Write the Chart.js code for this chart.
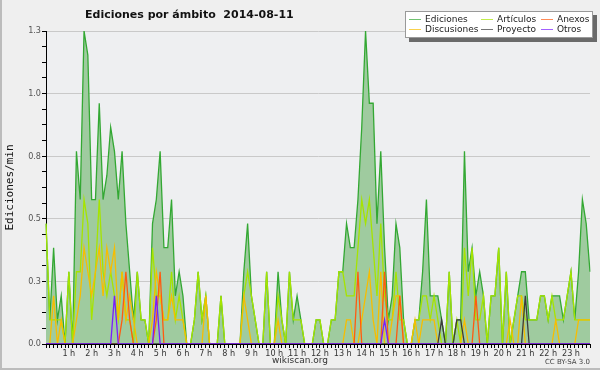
<!DOCTYPE html>
<html>
<head>
<meta charset="utf-8">
<script src="https://cdn.jsdelivr.net/npm/chart.js@4.4.1/dist/chart.umd.min.js"></script>
<style>
  html, body { margin: 0; padding: 0; background: #efefef; }
  #wrap { position: relative; width: 600px; height: 370px; font-family: "DejaVu Sans", sans-serif; }
  #frame { position: absolute; left: 0; top: 0; width: 598px; height: 368px; border-left: 2px solid #bcbcbc; border-bottom: 2px solid #bcbcbc; pointer-events: none; }
  #title { position: absolute; left: 85px; top: 8px; font-size: 11px; font-weight: bold; color: #111; white-space: pre; }
  #legend { position: absolute; left: 405px; top: 11px; width: 186px; height: 25px; background: #fff;
            border: 1px solid #999; box-shadow: 4px 4px 0 #6a6a6a; font-size: 9px; color: #222; }
  .item { position: absolute; white-space: nowrap; line-height: 10px; }
  .item i { display: inline-block; width: 12px; height: 1px; vertical-align: middle; margin-right: 4px; opacity: .7; }
  #site { position: absolute; left: 0; width: 600px; top: 355px; text-align: center; font-size: 9px; color: #333; }
  #lic { position: absolute; right: 10px; top: 358px; font-size: 7px; color: #444; }
</style>
</head>
<body>
<div id="wrap">
  <canvas id="chart" width="600" height="370"></canvas>
  <div id="title">Ediciones por ámbito  2014-08-11</div>
  <div id="legend"></div>
  <div id="site">wikiscan.org</div>
  <div id="lic">CC BY-SA 3.0</div>
  <div id="frame"></div>
</div>
<script>
// hour labels under the x axis, one slot every 10 minutes
const hourLabels = ['', '1 h', '2 h', '3 h', '4 h', '5 h', '6 h', '7 h', '8 h', '9 h', '10 h', '11 h',
  '12 h', '13 h', '14 h', '15 h', '16 h', '17 h', '18 h', '19 h', '20 h', '21 h', '22 h', '23 h'];
const slots = [];
for (let h = 0; h < 24; h++) {
  for (let m = 0; m < 60; m += 10) slots.push(String(h).padStart(2, '0') + ':' + String(m).padStart(2, '0'));
}

// edits per minute, 10 minute buckets
const ediciones = [
  0.5,0.1,0.4,0.1,0.2,0,0.3,0,0.8,0.6,
  1.3,1.2,0.6,0.6,1.0,0.6,0.7,0.9,0.8,0.6,
  0.8,0.5,0.3,0.1,0.3,0.1,0.1,0,0.5,0.6,
  0.8,0.4,0.4,0.6,0.2,0.3,0.2,0,0,0.1,
  0.3,0.1,0.2,0,0,0,0.2,0,0,0,
  0,0,0.3,0.5,0.2,0.1,0,0,0.3,0,
  0,0.3,0.1,0,0.3,0.1,0.2,0.1,0,0,
  0,0.1,0.1,0,0,0.1,0.1,0.3,0.3,0.5,
  0.4,0.4,0.6,0.9,1.3,1.0,1.0,0.5,0.8,0.4,
  0.1,0.2,0.5,0.4,0.1,0,0,0.1,0.1,0.3,
  0.6,0.2,0.2,0.2,0.1,0,0.3,0,0.1,0.1,
  0.8,0.3,0.4,0.2,0.3,0.2,0,0.2,0.2,0.4,
  0,0.3,0,0.1,0.2,0.3,0.3,0.1,0.1,0.1,
  0.2,0.2,0.1,0.2,0.2,0.2,0.1,0.2,0.3,0.1,
  0.3,0.6,0.5,0.3
];
const articulos = [
  0.5,0.1,0.1,0.1,0.1,0,0.3,0,0.3,0.3,
  0.6,0.5,0.1,0.3,0.6,0.3,0.2,0.3,0.2,0.1,
  0.3,0.1,0.1,0,0.3,0.1,0.1,0,0.4,0.2,
  0.2,0.1,0.1,0.3,0.1,0.2,0.1,0,0,0.1,
  0.3,0.1,0.2,0,0,0,0.2,0,0,0,
  0,0,0.2,0.3,0.2,0.1,0,0,0.3,0,
  0,0.2,0.1,0,0.3,0.1,0.1,0.1,0,0,
  0,0.1,0.1,0,0,0.1,0.1,0.3,0.3,0.2,
  0.2,0.2,0.4,0.6,0.5,0.6,0.4,0.2,0.5,0.2,
  0.1,0.1,0.3,0.1,0.1,0,0,0.1,0.1,0.2,
  0.2,0.1,0.2,0.1,0,0,0.3,0,0.1,0,
  0.4,0.2,0.4,0.1,0.1,0.2,0,0.2,0.2,0.4,
  0,0.3,0,0.1,0.2,0.2,0.1,0.1,0.1,0.1,
  0.2,0.2,0.1,0.2,0.1,0.1,0.1,0.2,0.3,0.1,
  0.1,0.1,0.1,0.1
];
const discusiones = [
  0,0,0.2,0,0.1,0,0,0,0.1,0.2,
  0.4,0.3,0.2,0.3,0.4,0.2,0.4,0.3,0.4,0.1,
  0.3,0.1,0.2,0.1,0,0,0,0,0.1,0.3,
  0.2,0.1,0.1,0.2,0.1,0.1,0.1,0,0,0,
  0,0,0.2,0,0,0,0,0,0,0,
  0,0,0.2,0.1,0,0,0,0,0,0,
  0,0.1,0,0,0,0,0,0,0,0,
  0,0,0,0,0,0,0,0,0,0.1,
  0.1,0,0,0.1,0.2,0.3,0.1,0,0.3,0,
  0,0.1,0.2,0.2,0,0,0,0.1,0,0.1,
  0.1,0.1,0.1,0,0,0,0,0,0,0,
  0.1,0,0,0,0,0,0,0,0,0,
  0,0,0.1,0,0,0.2,0,0,0,0,
  0,0,0,0,0.1,0,0,0,0,0,
  0.1,0.1,0.1,0.1
];
const anexos = [
  0,0,0,0,0,0,0,0,0,0,
  0,0,0,0,0,0,0,0,0,0,
  0.1,0.3,0.1,0,0,0,0,0,0,0.1,
  0.3,0,0,0,0,0,0,0,0,0,
  0,0,0,0,0,0,0,0,0,0,
  0,0,0,0,0,0,0,0,0,0,
  0,0,0,0,0,0,0,0,0,0,
  0,0,0,0,0,0,0,0,0,0,
  0,0,0.3,0,0,0,0,0,0,0.3,
  0,0,0,0.2,0,0,0,0,0,0,
  0,0,0,0,0,0,0,0,0,0,
  0,0,0,0.2,0,0,0,0,0,0,
  0,0,0,0,0,0,0,0,0,0,
  0,0,0,0,0,0,0,0,0,0,
  0,0,0,0
];
const proyecto = [
  0,0,0,0,0,0,0,0,0,0,
  0,0,0,0,0,0,0,0,0,0,
  0,0,0,0,0,0,0,0,0,0,
  0,0,0,0,0,0,0,0,0,0,
  0,0,0,0,0,0,0,0,0,0,
  0,0,0,0,0,0,0,0,0,0,
  0,0,0,0,0,0,0,0,0,0,
  0,0,0,0,0,0,0,0,0,0,
  0,0,0,0,0,0,0,0,0,0,
  0,0,0,0,0,0,0,0,0,0,
  0,0,0,0,0.1,0,0,0,0.1,0.1,
  0,0,0,0,0,0,0,0,0,0,
  0,0,0,0,0,0,0.2,0,0,0,
  0,0,0,0,0,0,0,0,0,0,
  0,0,0,0
];
const otros = [
  0,0,0,0,0,0,0,0,0,0,
  0,0,0,0,0,0,0,0,0.2,0,
  0,0,0,0,0,0,0,0,0,0.2,
  0,0,0,0,0,0,0,0,0,0,
  0,0,0,0,0,0,0,0,0,0,
  0,0,0,0,0,0,0,0,0,0,
  0,0,0,0,0,0,0,0,0,0,
  0,0,0,0,0,0,0,0,0,0,
  0,0,0,0,0,0,0,0,0,0.1,
  0,0,0,0,0,0,0,0,0,0,
  0,0,0,0,0,0,0,0,0,0,
  0,0,0,0,0,0,0,0,0,0,
  0,0,0,0,0,0,0,0,0,0,
  0,0,0,0,0,0,0,0,0,0,
  0,0,0,0
];

const series = [
  { label: 'Ediciones', data: ediciones, color: '#33a833' },
  { label: 'Artículos', data: articulos, color: '#a6e400' },
  { label: 'Anexos', data: anexos, color: '#ff5a10' },
  { label: 'Discusiones', data: discusiones, color: '#f7bd00' },
  { label: 'Proyecto', data: proyecto, color: '#3c3c3c' },
  { label: 'Otros', data: otros, color: '#7a1cff' }
];
const drawOrder = { 'Ediciones': 6, 'Artículos': 5, 'Discusiones': 4, 'Anexos': 3, 'Proyecto': 2, 'Otros': 1 };

// legend, 2 rows x 3 columns like the original box
const legendPos = [[3, 2], [75, 2], [135, 2], [3, 12], [75, 12], [135, 12]];
const legendOrder = ['Ediciones', 'Artículos', 'Anexos', 'Discusiones', 'Proyecto', 'Otros'];
const legendBox = document.getElementById('legend');
legendOrder.forEach((name, k) => {
  const s = series.find(d => d.label === name);
  const el = document.createElement('div');
  el.className = 'item';
  el.style.left = legendPos[k][0] + 'px';
  el.style.top = legendPos[k][1] + 'px';
  el.innerHTML = '<i style="background:' + s.color + '"></i>' + name;
  legendBox.appendChild(el);
});

const plotBg = {
  id: 'plotBg',
  beforeDraw(chart) {
    const { ctx, chartArea: a } = chart;
    ctx.save();
    ctx.fillStyle = '#eeeff1';
    ctx.fillRect(a.left, a.top, a.right - a.left, a.bottom - a.top);
    ctx.restore();
  }
};

const tickFont = { family: 'DejaVu Sans Condensed, DejaVu Sans, sans-serif', size: 9 };

new Chart(document.getElementById('chart').getContext('2d'), {
  type: 'line',
  data: {
    labels: slots,
    datasets: series.map(s => ({
      label: s.label,
      data: s.data,
      borderColor: s.color,
      backgroundColor: s.label === 'Ediciones' ? '#9fcb9f' : s.color,
      fill: s.label === 'Ediciones' ? 'origin' : false,
      borderWidth: 1.3,
      pointRadius: 0,
      tension: 0,
      order: drawOrder[s.label]
    }))
  },
  options: {
    responsive: false,
    animation: false,
    layout: { padding: { top: 31, right: 10, bottom: 0, left: 0 } },
    plugins: {
      legend: { display: false },
      tooltip: { enabled: false }
    },
    scales: {
      x: {
        type: 'category',
        offset: false,
        afterFit: s => { s.height = 26; },
        border: { display: true, color: '#000', width: 1 },
        grid: { drawOnChartArea: false, tickColor: '#000', tickLength: 4, offset: false },
        ticks: {
          autoSkip: false,
          maxRotation: 0,
          padding: 0,
          color: '#333',
          font: tickFont,
          callback: (v, i) => (i % 6 === 0 ? hourLabels[i / 6] : '')
        }
      },
      y: {
        min: 0,
        max: 1.3,
        afterFit: s => { s.width = 46; },
        border: { display: true, color: '#000', width: 1 },
        grid: {
          color: c => (c.index % 4 === 0 && c.index > 0 ? '#c9c9c9' : 'rgba(0,0,0,0)'),
          tickColor: '#000',
          tickLength: 4
        },
        ticks: {
          count: 21,
          autoSkip: false,
          padding: 1,
          color: '#555',
          font: tickFont,
          callback: (v, i) => (i % 4 === 0 ? v.toFixed(1) : '')
        },
        title: {
          display: true,
          text: 'Ediciones/min',
          color: '#111',
          font: { family: 'DejaVu Sans Mono, monospace', size: 11 }
        }
      }
    }
  },
  plugins: [plotBg]
});
</script>
</body>
</html>
